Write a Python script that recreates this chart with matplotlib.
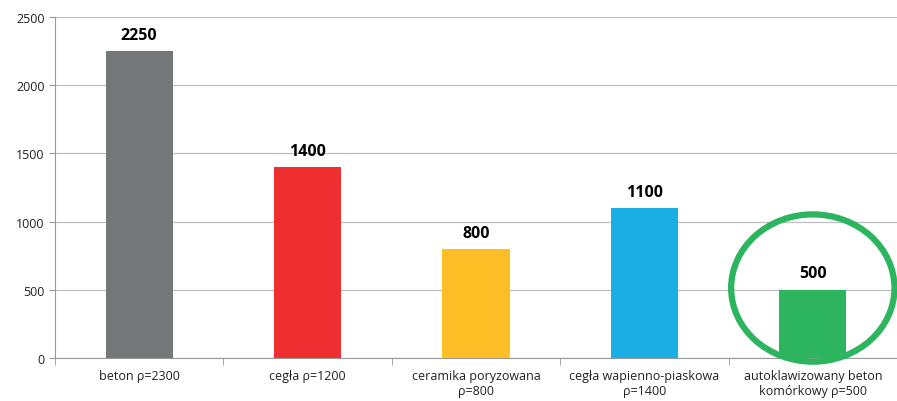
import matplotlib.pyplot as plt
from matplotlib.patches import Ellipse

plt.rcParams['font.family'] = ['Open Sans', 'DejaVu Sans']

categories = ['beton ρ=2300', 'cegła ρ=1200', 'ceramika poryzowana\nρ=800',
              'cegła wapienno-piaskowa\nρ=1400', 'autoklawizowany beton\nkomórkowy ρ=500']
values = [2250, 1400, 800, 1100, 500]
colors = ['#737778', '#EE2E2F', '#FDBE26', '#1AAEE5', '#2DB45E']

fig = plt.figure(figsize=(8.97, 4.02), dpi=100)
ax = fig.add_axes([0.0613, 0.107, 0.9387, 0.848])

x = list(range(len(categories)))
bars = ax.bar(x, values, width=0.4, color=colors, zorder=3)
for b, v in zip(bars, values):
    ax.annotate(str(v), (b.get_x() + b.get_width() / 2, v), xytext=(0, 6),
                textcoords='offset points', ha='center', va='bottom',
                fontsize=11.5, fontweight='bold', color='black')

ax.set_ylim(0, 2500)
ax.set_yticks(range(0, 2501, 500))
ax.set_xlim(-0.5, 4.42)
ax.set_xticks(x)
ax.set_xticklabels(categories, fontsize=9, color='#222222')
ax.set_xticks([i + 0.5 for i in range(-1, 5)], minor=True)
ax.tick_params(axis='x', which='major', length=0, pad=8)
ax.tick_params(axis='x', which='minor', length=5, color='#999999')
ax.tick_params(axis='y', length=4, color='#999999', labelsize=9, labelcolor='#222222')
ax.grid(axis='y', color='#BFBFBF', linewidth=0.9, zorder=0)
for s in ['top', 'right']:
    ax.spines[s].set_visible(False)
for s in ['left', 'bottom']:
    ax.spines[s].set_color('#999999')

# green highlight around the last bar
ax.add_patch(Ellipse((4, 513), 0.97, 1080, fill=False, edgecolor='#2DB45E',
                     linewidth=4.5, clip_on=False, zorder=4))

fig.savefig('out.png', dpi=100)
